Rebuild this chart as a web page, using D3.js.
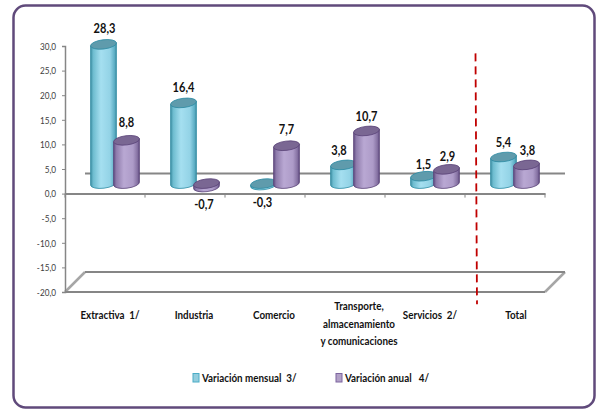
<!DOCTYPE html>
<html>
<head>
<meta charset="utf-8">
<script src="https://cdn.jsdelivr.net/npm/d3@7"></script>
<style>
  html, body { margin: 0; padding: 0; background: #fff; }
  text { font-family: Lato, "Liberation Sans", sans-serif; white-space: pre; }
</style>
</head>
<body>
<script>
const categories = ["Extractiva  1/", "Industria", "Comercio", "Transporte,|almacenamiento|y comunicaciones", "Servicios  2/", "Total"];
const mensual = [28.3, 16.4, -0.3, 3.8, 1.5, 5.4];
const anual = [8.8, -0.7, 7.7, 10.7, 2.9, 3.8];
const valueLabels = [["28,3", "16,4", "-0,3", "3,8", "1,5", "5,4"], ["8,8", "-0,7", "7,7", "10,7", "2,9", "3,8"]];
const yTicks = [-20, -15, -10, -5, 0, 5, 10, 15, 20, 25, 30];

const width = 597, height = 410;
const left = 65, right = 545, depth = 20;
const squeeze = 0.82;
// hand placed offsets of the labels, the original chart was dragged around by hand
const labelDx = [5, 9, 9, 14, 5, 11];
const valueDx = [[1, 0, -1, -4.5, 0, 0], [0, -2.5, 0, 0, 1, 1]];
const valueDy = [[-1, -0.5, 0, 0.5, 3.5, 0.5], [-2.5, 0, -1, 0.5, 2.5, 0.5]];

const svg = d3.select("body").append("svg").attr("width", width).attr("height", height).style("display", "block");

const defs = svg.append("defs");
function gradient(id, stops) {
    const g = defs.append("linearGradient").attr("id", id);
    stops.forEach(s => g.append("stop").attr("offset", s[0]).attr("stop-color", s[1]));
}
gradient("teal", [[0, "#3d8ea3"], [0.1, "#6dbccf"], [0.4, "#a5dff0"], [0.75, "#93d3e6"], [0.92, "#5fb0c6"], [1, "#3d8ea3"]]);
gradient("purple", [[0, "#5f4a80"], [0.1, "#8e7bab"], [0.4, "#b9a8d3"], [0.75, "#ad9bc8"], [0.92, "#8672a3"], [1, "#5f4a80"]]);

svg.append("rect").attr("x", 13.5).attr("y", 5.5).attr("width", 581).attr("height", 402).attr("rx", 12)
    .attr("fill", "#fff").attr("stroke", "#604a7b").attr("stroke-width", 2.5);

const x = d3.scaleBand().domain(d3.range(categories.length)).range([left, right]);
const y = d3.scaleLinear().domain([-20, 30]).range([292, 46]);
const series = d3.scaleBand().domain([0, 1]).range([-23, 23]);

function addText(g, px, py, txt) {
    return g.append("text").attr("transform", `translate(${px},${py}) scale(${squeeze},1)`).text(txt);
}

// floor and back line at zero
const grey = "#868686";
svg.append("path")
    .attr("d", `M${left},${y(-20)}L${left + depth},${y(-20) - depth}M${right},${y(-20)}L${right + depth},${y(-20) - depth}`)
    .attr("fill", "none").attr("stroke", "#a6a6a6").attr("stroke-width", 2.5);
svg.append("line").attr("x1", left + depth).attr("x2", right + depth).attr("y1", y(-20) - depth).attr("y2", y(-20) - depth)
    .attr("stroke", grey).attr("stroke-width", 2);
svg.append("line").attr("x1", left).attr("x2", right).attr("y1", y(-20)).attr("y2", y(-20))
    .attr("stroke", grey).attr("stroke-width", 2);
svg.append("line").attr("x1", left + depth).attr("x2", right + depth).attr("y1", y(0) - depth).attr("y2", y(0) - depth)
    .attr("stroke", grey).attr("stroke-width", 2);

const yAxis = svg.append("g").attr("transform", `translate(${left},0)`)
    .call(d3.axisLeft(y).tickValues(yTicks).tickSize(3).tickFormat(d => d3.format(".1f")(d).replace(".", ",").replace("−", "-")));
yAxis.selectAll("path, line").attr("stroke", grey);
yAxis.select("path").attr("stroke-width", 1.5);
yAxis.selectAll("text").attr("x", null).attr("transform", `translate(-9,0) scale(${squeeze},1)`)
    .attr("font-size", 10).attr("font-family", "Lato").attr("fill", "#404040");

const xAxis = svg.append("g").attr("transform", `translate(0,${y(0)})`)
    .call(d3.axisBottom(x).tickValues([]).tickSize(0));
xAxis.select("path").attr("stroke", grey).attr("stroke-width", 2);
xAxis.selectAll("line.cat").data(d3.range(categories.length + 1)).enter().append("line").attr("class", "cat")
    .attr("x1", d => left + d * x.step()).attr("x2", d => left + d * x.step()).attr("y1", 0).attr("y2", 4)
    .attr("stroke", grey);

// cylinders sit half way into the depth of the chart
const rx = 13, ry = 4.6, tilt = 7;
const dxTilt = rx * Math.cos(tilt * Math.PI / 180), dyTilt = rx * Math.sin(tilt * Math.PI / 180);
function cylinder(g, cx, yTop, yBot, name, capColor, edge) {
    g.append("path")
        .attr("d", `M${cx - dxTilt},${yTop + dyTilt}L${cx - dxTilt},${yBot + dyTilt}A${rx},${ry} ${-tilt} 0 0 ${cx + dxTilt},${yBot - dyTilt}L${cx + dxTilt},${yTop - dyTilt}Z`)
        .attr("fill", `url(#${name})`).attr("stroke", edge).attr("stroke-width", 0.8);
    g.append("ellipse").attr("cx", cx).attr("cy", yTop).attr("rx", rx).attr("ry", ry)
        .attr("transform", `rotate(${-tilt},${cx},${yTop})`)
        .attr("fill", capColor).attr("stroke", edge).attr("stroke-width", 0.8);
}
const bars = svg.append("g");
categories.forEach((c, i) => {
    const cx = x(i) + x.bandwidth() / 2 + depth / 2;
    [[mensual[i], "teal", "#5f9bac", "#2f8ba3"], [anual[i], "purple", "#7a6793", "#5a4478"]].forEach((s, k) => {
        const v = s[0];
        const bx = cx + series(k) + series.bandwidth() / 2;
        const top = y(Math.max(v, 0)) - depth / 2, bot = y(Math.min(v, 0)) - depth / 2;
        cylinder(bars, bx, top, bot, s[1], s[2], s[3]);
    });
});

// value labels
const labels = svg.append("g").attr("font-weight", "bold").attr("font-size", 13.5).attr("fill", "#111").attr("text-anchor", "middle");
categories.forEach((c, i) => {
    const cx = x(i) + x.bandwidth() / 2 + depth / 2;
    [mensual[i], anual[i]].forEach((v, k) => {
        const bx = cx + series(k) + series.bandwidth() / 2 + valueDx[k][i];
        const yPos = v < 0 ? y(v) - depth / 2 + 22 : y(v) - depth / 2 - 10.5 + valueDy[k][i];
        addText(labels, bx, yPos, valueLabels[k][i]);
    });
});

// category labels
const catLabels = svg.append("g").attr("font-weight", "bold").attr("font-size", 12).attr("fill", "#111").attr("text-anchor", "middle");
categories.forEach((c, i) => {
    const lines = c.split("|");
    const cx = x(i) + x.bandwidth() / 2 + labelDx[i];
    lines.forEach((l, j) => {
        addText(catLabels, cx, lines.length > 1 ? 310 + j * 17.5 : 319, l);
    });
});

// red divider
svg.append("line").attr("x1", 475.5).attr("y1", y(28.5)).attr("x2", 477).attr("y2", y(-22.5))
    .attr("stroke", "#c00000").attr("stroke-width", 1.8).attr("stroke-dasharray", "8,5");

// legend
const legend = svg.append("g").attr("font-weight", "bold").attr("font-size", 12).attr("fill", "#111");
[["Variación mensual  3/", 193, "#93cddd", "#4aacc6"], ["Variación anual   4/", 336, "#b2a1c7", "#7c659f"]].forEach(d => {
    legend.append("rect").attr("x", d[1]).attr("y", 373.5).attr("width", 6).attr("height", 8.5)
        .attr("fill", d[2]).attr("stroke", d[3]);
    addText(legend, d[1] + 9, 382, d[0]);
});
</script>
</body>
</html>
